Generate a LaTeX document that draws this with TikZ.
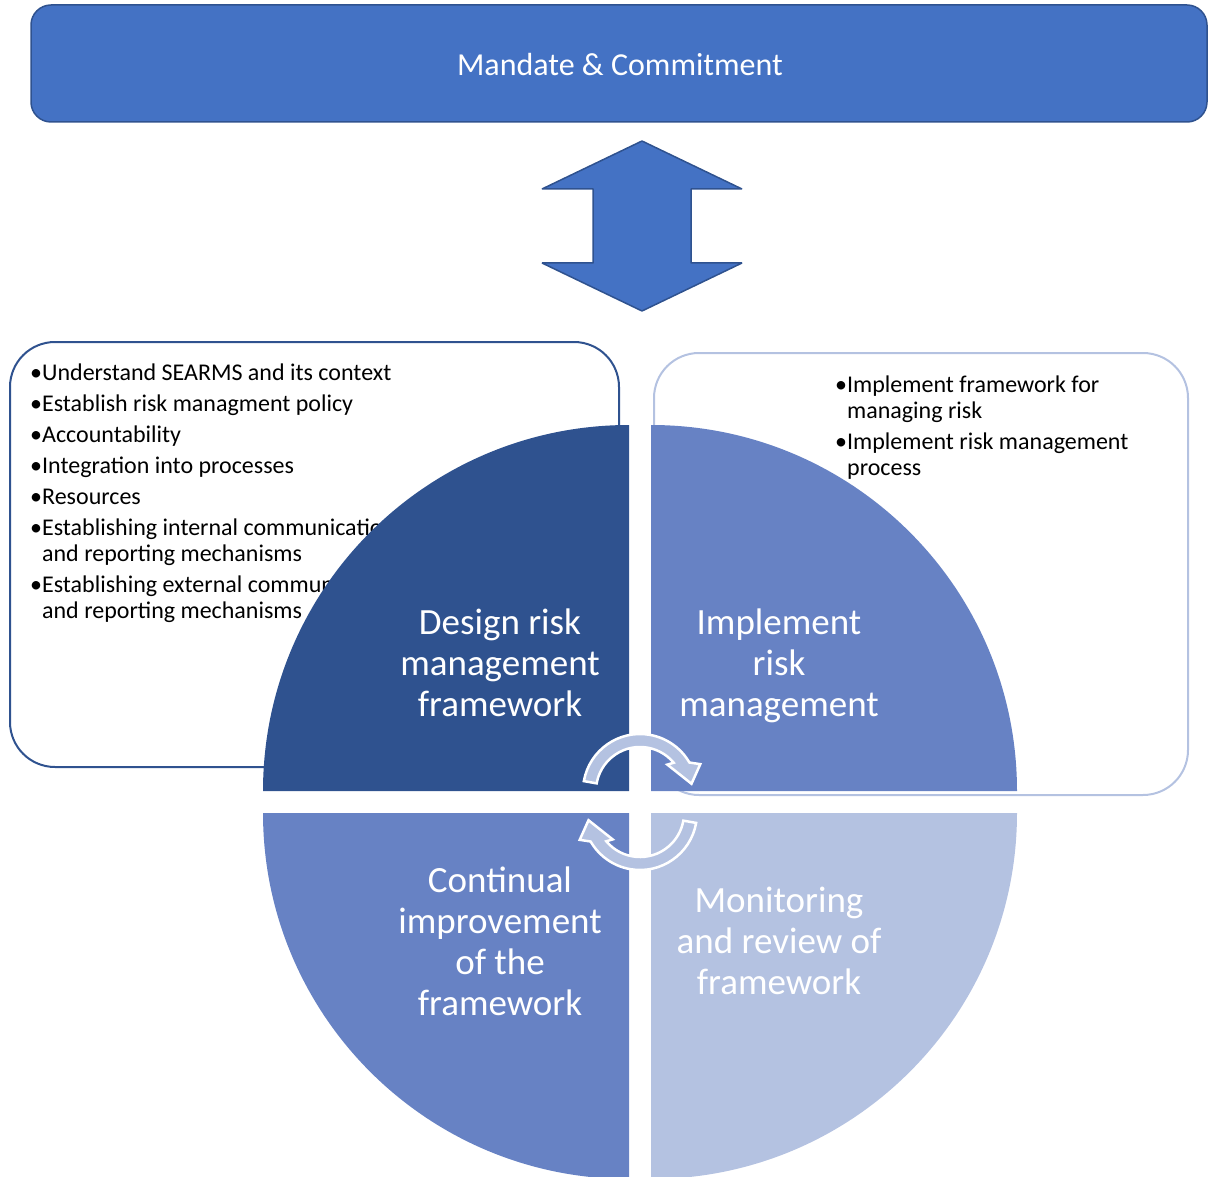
\documentclass[tikz,border=0pt]{standalone}
\usepackage{fontspec}
\setmainfont{Carlito}
\definecolor{accent}{RGB}{68,114,196}
\definecolor{accentdark}{RGB}{47,82,143}
\definecolor{accentmid}{RGB}{103,130,196}
\definecolor{accentlight}{RGB}{180,194,225}
\begin{document}
\begin{tikzpicture}[x=1pt,y=-1pt,
  banner/.style={fill=accent,draw=accentdark,line width=1.5pt,rounded corners=20pt},
  listbox/.style={line width=2pt,rounded corners=45pt},
  listtext/.style={anchor=north west,inner sep=0pt,text=black,
    font=\fontsize{24}{26}\selectfont,align=left},
  quadtext/.style={text=white,align=center,inner sep=0pt,
    font=\fontsize{37}{41}\selectfont},
  cycarrow/.style={fill=accentlight,draw=white,line width=2.5pt,line join=miter}]
\clip (0,0) rectangle (1208,1177);
\useasboundingbox (0,0) rectangle (1208,1177);

% banner
\draw[banner] (31,5) rectangle (1207,122);
\node[text=white,font=\fontsize{32}{38}\selectfont] (mandate) at (620,65) {Mandate \& Commitment};

% two-way block arrow
\draw[fill=accent,draw=accentdark,line width=1.5pt,line join=bevel]
  (642,141) -- (742,189) -- (691,189) -- (691,263) -- (742,263) -- (642,311)
  -- (542,263) -- (593,263) -- (593,189) -- (542,189) -- cycle;

% list frames
\draw[listbox,draw=accentdark] (10,342) rectangle (619,767);
\draw[listbox,draw=accentlight] (654,353) rectangle (1188,795);

\node[listtext] (designlist) at (30,362) {%
\begin{tabular}{@{}l@{}l@{}}
•&Understand SEARMS and its context\\[5pt]
•&Establish risk managment policy\\[5pt]
•&Accountability\\[5pt]
•&Integration into processes\\[5pt]
•&Resources\\[5pt]
•&Establishing internal communication\\
 &and reporting mechanisms\\[5pt]
•&Establishing external communication\\
 &and reporting mechanisms
\end{tabular}};

\node[listtext] (implist) at (835,374) {%
\begin{tabular}{@{}l@{}l@{}}
•&Implement framework for\\
 &managing risk\\[5pt]
•&Implement risk management\\
 &process
\end{tabular}};

% quarter discs
\fill[accentdark] (629,791) -- (263,791) arc[start angle=180,end angle=270,radius=366] -- cycle;
\fill[accentmid] (651,791) -- (651,425) arc[start angle=270,end angle=360,radius=366] -- cycle;
\fill[accentmid] (629,813) -- (263,813) arc[start angle=180,end angle=90,radius=366] -- cycle;
\fill[accentlight] (651,813) -- (1017,813) arc[start angle=0,end angle=90,radius=366] -- cycle;

\node[quadtext] (design) at (500,663) {Design risk\\management\\framework};
\node[quadtext] (implement) at (779,666) {Implement\\risk\\management};
\node[quadtext] (improve) at (500,941) {Continual\\improvement\\of the\\framework};
\node[quadtext] (monitor) at (779,941) {Monitoring\\and review of\\framework};

% circular arrows in the middle
\begin{scope}[shift={(640,791)}]
\draw[cycarrow] (-170:57) arc[start angle=-170,end angle=-30,radius=57]
  -- (-24:66) -- (-8:52) -- (-44:38) -- (-40:44)
  arc[start angle=-40,end angle=-170,radius=44] -- cycle;
\end{scope}
\begin{scope}[shift={(640,813)},rotate=180]
\draw[cycarrow] (-170:57) arc[start angle=-170,end angle=-30,radius=57]
  -- (-24:66) -- (-8:52) -- (-44:38) -- (-40:44)
  arc[start angle=-40,end angle=-170,radius=44] -- cycle;
\end{scope}
\end{tikzpicture}
\end{document}
